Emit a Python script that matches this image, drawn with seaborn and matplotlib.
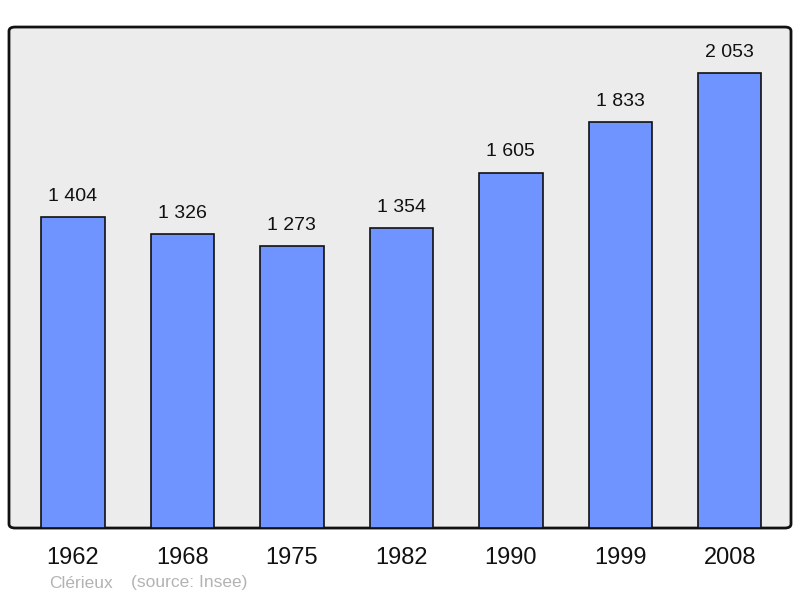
import matplotlib
matplotlib.use("Agg")
import matplotlib.pyplot as plt
from matplotlib.patches import FancyBboxPatch
import seaborn as sns
import pandas as pd

years = ["1962", "1968", "1975", "1982", "1990", "1999", "2008"]
population = [1404, 1326, 1273, 1354, 1605, 1833, 2053]
commune = "Clérieux"
source = "(source: Insee)"

sns.set_style("white")
plt.rcParams['font.family'] = ['Liberation Sans', 'DejaVu Sans']

df = pd.DataFrame({"year": years, "pop": population})

fig = plt.figure(figsize=(8, 5.98), dpi=100)
ax = fig.add_axes([0.01125, 0.117, 0.9775, 0.8378])
ax.set_facecolor("none")

bg = FancyBboxPatch((0, 0), 1, 1, boxstyle="round,pad=0,rounding_size=0.008",
                    transform=ax.transAxes, facecolor="#ececec", edgecolor="#111111",
                    linewidth=2, zorder=0, clip_on=False)
ax.add_patch(bg)

sns.barplot(data=df, x="year", y="pop", color="#7094ff", edgecolor="#111111",
            linewidth=1.2, width=0.58, saturation=1, ax=ax, zorder=2)

for i, v in enumerate(population):
    label = f"{v:,}".replace(",", " ")
    ax.text(i, v + 95, label, ha="center", va="center", fontsize=14, color="#111111")

ax.set_xlim(-0.585, 6.56)
ax.set_ylim(0, 2262)
ax.set_yticks([])
ax.set_xlabel("")
ax.set_ylabel("")
for s in ax.spines.values():
    s.set_visible(False)
ax.tick_params(axis="x", length=0, pad=14, labelsize=17, labelcolor="#111111")

fig.text(49 / 800, 1 - 583 / 598, commune, fontsize=12.5, color="#b3b3b3", va="center", ha="left")
fig.text(131 / 800, 1 - 583 / 598, source, fontsize=12.5, color="#b3b3b3", va="center", ha="left")

fig.savefig("out.png", dpi=100)
